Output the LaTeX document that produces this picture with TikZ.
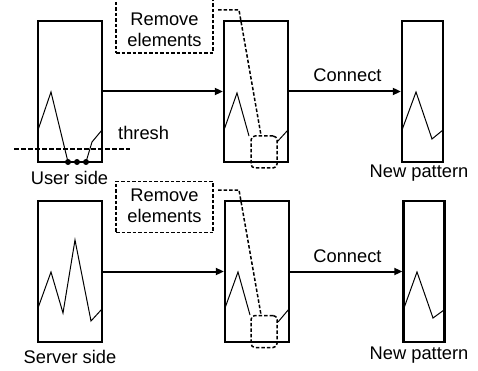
\documentclass[tikz,border=0pt]{standalone}
\usepackage{fontspec}
\setmainfont{Liberation Sans}
\usetikzlibrary{arrows.meta}
\begin{document}
\begin{tikzpicture}[x=1pt,y=-1pt,
  every node/.style={font=\fontsize{18.3}{21}\selectfont, inner sep=0pt},
  pbox/.style={draw, line width=2.4pt, minimum height=141pt},
  wide/.style={pbox, minimum width=64pt},
  narrow/.style={pbox, minimum width=41pt},
  rembox/.style={draw, line width=1.5pt, dash pattern=on 3.5pt off 2pt, minimum width=97pt},
  selbox/.style={draw, line width=1.5pt, dash pattern=on 3.5pt off 2pt, rounded corners=4pt, minimum width=26pt, minimum height=32pt},
  dline/.style={line width=1.5pt, dash pattern=on 3.5pt off 2pt},
  curve/.style={line width=1pt},
  flow/.style={line width=2pt, -{Triangle[length=8pt,width=7pt]}},
  lbl/.style={anchor=base}
]
\useasboundingbox (0,0) rectangle (478,371);

% ---------- top row ----------
\node[wide] (a1) at (70,91.5) {};
\node[wide] (b1) at (256,91.5) {};
\node[narrow] (c1) at (422.5,91.5) {};
\node[rembox, minimum height=55pt] (r1) at (164.5,25.5) {};
\node[align=center] (r1t) at (164.5,30.1) {Remove\\elements};
\node[selbox] (s1) at (264,152) {};

\draw[curve] (38,130) -- (51,92) -- (68,162);
\draw[curve] (86,162) -- (92,142) -- (102,130);
\foreach \x/\n in {68/d1,77/d2,86/d3} \fill (\x,162) circle (3pt) coordinate (\n);
\draw[line width=1.8pt, dash pattern=on 4.5pt off 2.5pt] (14,149) -- (130,149);
\node[anchor=base west] (th) at (118,140) {thresh};
\node[lbl] (u) at (69.5,185) {User side};

\draw[curve] (224,130) -- (237,93) -- (249,136);
\draw[curve] (277,142) -- (288,130);
\draw[curve] (402,130) -- (416,92) -- (432,139) -- (443,130);

\coordinate (k1) at (218,10);
\draw[dline] (k1) -- (239,10) -- ([xshift=-3pt]s1.north);

\draw[flow] (a1.east) -- (b1.west);
\draw[flow] (b1.east) -- (c1.west);
\node[lbl] (cn1) at (347.5,82) {Connect};
\node[lbl] (np1) at (419,178) {New pattern};

% ---------- bottom row ----------
\node[wide] (a2) at (70,271.5) {};
\node[wide] (b2) at (257,271.5) {};
\node[narrow] (c2) at (424,271.5) {};
\node[rembox, minimum height=51pt] (r2) at (164.5,207) {};
\node[align=center] (r2t) at (164.5,206) {Remove\\elements};
\node[selbox] (s2) at (264,331.5) {};

\draw[curve] (38,308) -- (51,272) -- (63,313) -- (75,240) -- (91,321) -- (102,309);
\node[lbl] (sv) at (70,363) {Server side};

\draw[curve] (225,308) -- (238,272) -- (250,315);
\draw[curve] (278,322) -- (289,309);
\draw[curve] (404,308) -- (417,272) -- (433,318) -- (444,310);

\coordinate (k2) at (218,190);
\draw[dline] (k2) -- (239,190) -- ([xshift=-3pt]s2.north);

\draw[flow] (a2.east) -- (b2.west);
\draw[flow] (b2.east) -- (c2.west);
\node[lbl] (cn2) at (347.5,262) {Connect};
\node[lbl] (np2) at (419,359) {New pattern};
\end{tikzpicture}
\end{document}
